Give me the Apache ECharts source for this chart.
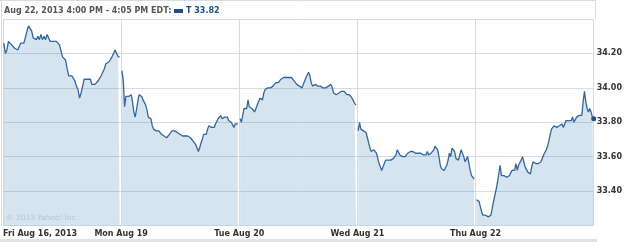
<!DOCTYPE html>
<html>
<head>
<meta charset="utf-8">
<script src="https://cdn.jsdelivr.net/npm/echarts@6/dist/echarts.min.js"></script>
<style>
html,body{margin:0;padding:0;background:#fff;}
#chart{width:625px;height:242px;}
</style>
</head>
<body>
<div id="chart"></div>
<script>
// ---- data (5-minute-ish intraday prices, AT&T "T") ----
const days = ['Fri Aug 16, 2013', 'Mon Aug 19', 'Tue Aug 20', 'Wed Aug 21', 'Thu Aug 22'];
const headerText = 'Aug 22, 2013 4:00 PM - 4:05 PM EDT:';
const ticker = 'T';
const lastPrice = 33.82;
const copyright = '\u00A9 2013 Yahoo! Inc.';

const fri = [34.26, 34.20, 34.22, 34.27, 34.28, 34.25, 34.24, 34.23, 34.23, 34.22, 34.21, 34.26, 34.26, 34.26, 34.26,
  34.33, 34.36, 34.35, 34.33, 34.29, 34.29, 34.28, 34.30, 34.28, 34.31, 34.28, 34.30, 34.28, 34.31, 34.30, 34.27,
  34.28, 34.27, 34.28, 34.27, 34.26, 34.25, 34.24, 34.18, 34.19, 34.16, 34.11, 34.07, 34.06, 34.07, 34.07, 34.04,
  34.01, 33.99, 33.94, 33.97, 34.01, 34.05, 34.05, 34.05, 34.05, 34.05, 34.02, 34.02, 34.02, 34.03, 34.04, 34.05,
  34.07, 34.09, 34.11, 34.14, 34.13, 34.15, 34.16, 34.18, 34.19, 34.22, 34.21, 34.18, 34.18];

const mon = [34.10, 34.04, 33.89, 33.95, 33.94, 33.95, 33.94, 33.96, 33.92, 33.86, 33.83, 33.87, 33.92, 33.96, 33.97,
  33.95, 33.93, 33.92, 33.90, 33.87, 33.83, 33.84, 33.82, 33.78, 33.76, 33.75, 33.75, 33.76, 33.75, 33.74, 33.73,
  33.73, 33.72, 33.73, 33.71, 33.72, 33.73, 33.72, 33.75, 33.76, 33.75, 33.74, 33.74, 33.74, 33.73, 33.74, 33.72,
  33.72, 33.72, 33.72, 33.72, 33.71, 33.71, 33.70, 33.69, 33.68, 33.67, 33.65, 33.63, 33.65, 33.68, 33.70, 33.73,
  33.74, 33.73, 33.76, 33.78, 33.78, 33.77, 33.78, 33.77, 33.79, 33.80, 33.82, 33.81, 33.84, 33.82, 33.82, 33.83,
  33.82, 33.83, 33.81, 33.82, 33.80, 33.81, 33.77, 33.79, 33.78, 33.79];

const tue = [33.82, 33.80, 33.79, 33.88, 33.89, 33.88, 33.93, 33.89, 33.90, 33.88, 33.87, 33.86, 33.87, 33.90, 33.90,
  33.94, 33.94, 33.93, 33.97, 33.99, 33.99, 34.00, 33.99, 34.00, 34.01, 34.01, 34.02, 34.03, 34.02, 34.03, 34.04,
  34.05, 34.05, 34.06, 34.06, 34.06, 34.07, 34.06, 34.06, 34.06, 34.05, 34.04, 34.03, 34.02, 34.02, 34.01, 34.00,
  34.00, 34.02, 34.04, 34.06, 34.07, 34.09, 34.07, 34.03, 34.01, 34.01, 34.02, 34.01, 34.01, 34.00, 34.01, 34.01,
  34.00, 33.99, 34.00, 34.01, 34.01, 34.02, 34.02, 34.00, 33.97, 33.96, 33.96, 33.97, 33.97, 33.97, 33.98, 33.99,
  33.98, 33.97, 33.96, 33.96, 33.96, 33.95, 33.94, 33.93, 33.91, 33.90];

const wed = [33.75, 33.80, 33.76, 33.76, 33.75, 33.75, 33.74, 33.71, 33.68, 33.65, 33.63, 33.64, 33.64, 33.64, 33.62,
  33.59, 33.56, 33.54, 33.52, 33.54, 33.55, 33.58, 33.58, 33.58, 33.58, 33.58, 33.59, 33.59, 33.59, 33.61, 33.64,
  33.63, 33.61, 33.61, 33.60, 33.60, 33.60, 33.61, 33.62, 33.63, 33.63, 33.62, 33.63, 33.63, 33.62, 33.62, 33.62,
  33.61, 33.62, 33.63, 33.61, 33.62, 33.61, 33.63, 33.61, 33.62, 33.62, 33.62, 33.64, 33.66, 33.67, 33.64, 33.60,
  33.55, 33.53, 33.54, 33.52, 33.53, 33.55, 33.58, 33.62, 33.60, 33.65, 33.66, 33.63, 33.59, 33.58, 33.58, 33.59,
  33.64, 33.63, 33.60, 33.57, 33.58, 33.60, 33.56, 33.52, 33.49, 33.48, 33.47];

const thu = [33.35, 33.35, 33.34, 33.31, 33.28, 33.26, 33.26, 33.26, 33.26, 33.25, 33.25, 33.26, 33.30, 33.34, 33.35,
  33.41, 33.45, 33.46, 33.55, 33.49, 33.49, 33.49, 33.48, 33.48, 33.47, 33.49, 33.49, 33.52, 33.53, 33.52, 33.56,
  33.52, 33.55, 33.55, 33.58, 33.60, 33.57, 33.54, 33.53, 33.51, 33.50, 33.50, 33.54, 33.57, 33.58, 33.56, 33.55,
  33.56, 33.56, 33.57, 33.57, 33.61, 33.62, 33.64, 33.66, 33.69, 33.73, 33.76, 33.77, 33.78, 33.77, 33.77, 33.78,
  33.78, 33.77, 33.79, 33.77, 33.78, 33.81, 33.80, 33.81, 33.81, 33.81, 33.83, 33.80, 33.80, 33.83, 33.83, 33.84,
  33.83, 33.84, 33.92, 33.98, 33.92, 33.88, 33.86, 33.88, 33.86, 33.83, 33.82];

const dayPrices = [fri, mon, tue, wed, thu];

// ---- chart ----
const LINE = '#34669b';
const GRID = '#d3dde6';
const FONT = "'DejaVu Sans', Verdana, sans-serif";

function dayData(prices, d) {
  const startPad = 0.007;
  const endPad = d === dayPrices.length - 1 ? 0.0 : 0.012;
  const span = 1 - startPad - endPad;
  const n = prices.length;
  return prices.map((p, i) => {
    const item = { value: [d + startPad + span * i / (n - 1), p] };
    if (d === dayPrices.length - 1 && i === n - 1) {
      item.symbol = 'circle';
      item.symbolSize = 5;
      item.itemStyle = { color: '#1d4f84' };
    }
    return item;
  });
}

const series = dayPrices.map((prices, d) => ({
  type: 'line',
  name: ticker,
  data: dayData(prices, d),
  symbol: 'none',
  showSymbol: true,
  lineStyle: { color: LINE, width: 1.3 },
  itemStyle: { color: LINE },
  areaStyle: { color: 'rgba(48,118,176,0.2)', opacity: 1, origin: 'start' },
  silent: true,
  z: 2
}));

const chart = echarts.init(document.getElementById('chart'), null, { renderer: 'canvas' });
chart.setOption({
  animation: false,
  backgroundColor: '#fff',
  grid: { left: 2, right: 30, top: 19, bottom: 16.5, containLabel: false },
  xAxis: {
    type: 'value', min: 0, max: days.length, interval: 1,
    axisLine: { show: false }, axisTick: { show: false },
    splitLine: { show: true, lineStyle: { color: GRID, width: 1 } },
    axisLabel: {
      formatter: v => days[v] !== undefined ? days[v] : '',
      showMaxLabel: false, alignMinLabel: 'left',
      fontSize: 8, fontWeight: 'bold', color: '#333', fontFamily: FONT, margin: 4
    }
  },
  yAxis: {
    type: 'value', position: 'right', min: 33.2, max: 34.4, interval: 0.2,
    axisLine: { show: true, lineStyle: { color: '#cfd9e3' } }, axisTick: { show: false },
    splitLine: { show: true, lineStyle: { color: GRID, width: 1 } },
    axisLabel: {
      formatter: v => v.toFixed(2), showMinLabel: false, showMaxLabel: false,
      fontSize: 8, fontWeight: 'bold', color: '#333', fontFamily: FONT, margin: 3
    }
  },
  series: series,
  graphic: [
    { type: 'line', shape: { x1: 0, y1: 0.5, x2: 595, y2: 0.5 }, style: { stroke: GRID, lineWidth: 1 }, silent: true },
    { type: 'line', shape: { x1: 1.5, y1: 0, x2: 1.5, y2: 226 }, style: { stroke: GRID, lineWidth: 1 }, silent: true },
    { type: 'line', shape: { x1: 595.5, y1: 0, x2: 595.5, y2: 19 }, style: { stroke: GRID, lineWidth: 1 }, silent: true },
    { type: 'rect', shape: { x: 0, y: 239, width: 597, height: 3 }, style: { fill: '#e2e2e2' }, silent: true },
    { type: 'text', x: 4, y: 11, style: { text: headerText, fill: '#555', font: "bold 8px 'DejaVu Sans', Verdana, sans-serif", verticalAlign: 'middle' }, silent: true },
    { type: 'rect', shape: { x: 174, y: 9, width: 9, height: 4 }, style: { fill: '#1d4f84' }, silent: true },
    { type: 'text', x: 186, y: 11, style: { text: ticker + ' ' + lastPrice.toFixed(2), fill: '#1d4f84', font: "bold 8px 'DejaVu Sans', Verdana, sans-serif", verticalAlign: 'middle' }, silent: true },
    { type: 'text', x: 6, y: 218, z: 10, style: { text: copyright, fill: '#b5c5d2', font: "7.5px 'DejaVu Sans', Verdana, sans-serif", verticalAlign: 'middle' }, silent: true }
  ]
});
</script>
</body>
</html>
